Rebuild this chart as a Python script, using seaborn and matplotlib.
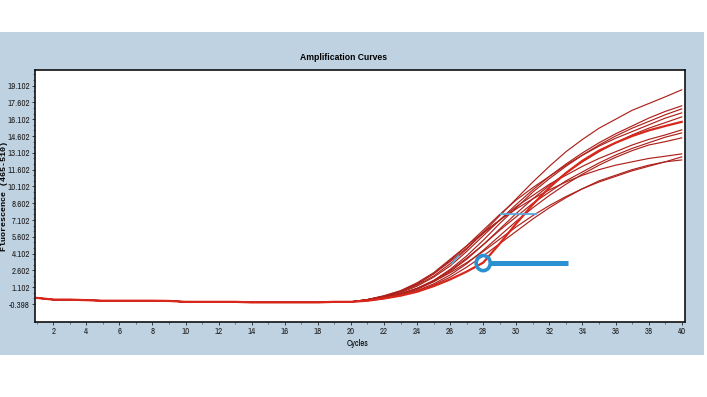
import numpy as np
import pandas as pd
import matplotlib
matplotlib.use("Agg")
import matplotlib.pyplot as plt
import seaborn as sns
from matplotlib.patches import Rectangle, Ellipse
from matplotlib.ticker import MultipleLocator, FixedLocator
from matplotlib import font_manager
from matplotlib.font_manager import FontProperties

# ---------------- data ----------------
cycles = list(range(1, 41))

baseline = [0.15, 0.0, 0.0, -0.05, -0.1, -0.1, -0.1, -0.1, -0.12, -0.2,
            -0.2, -0.2, -0.2, -0.25, -0.25, -0.25, -0.25, -0.25, -0.2, -0.2]

# cycles 21..40 for each sample
curve_a = [0.0, 0.3, 0.7, 1.3, 2.1, 3.2, 4.5, 6.0, 7.5, 9.0, 10.5, 11.9, 13.2, 14.3, 15.3, 16.1, 16.9, 17.5, 18.1, 18.73]
curve_b = [0.0, 0.25, 0.6, 1.2, 2.0, 3.0, 4.3, 5.7, 7.1, 8.5, 9.8, 11.0, 12.1, 13.1, 14.0, 14.8, 15.5, 16.2, 16.8, 17.30]
curve_c = [-0.05, 0.2, 0.5, 1.0, 1.7, 2.7, 3.9, 5.3, 6.8, 8.2, 9.6, 10.8, 11.9, 12.9, 13.8, 14.6, 15.3, 15.9, 16.5, 17.03]
curve_d = [0.0, 0.3, 0.7, 1.4, 2.3, 3.5, 4.8, 6.2, 7.6, 8.9, 10.0, 11.0, 12.0, 12.9, 13.7, 14.4, 15.0, 15.6, 16.2, 16.67]
curve_e = [-0.05, 0.15, 0.45, 0.9, 1.6, 2.5, 3.6, 4.9, 6.3, 7.7, 9.0, 10.2, 11.3, 12.3, 13.2, 14.0, 14.7, 15.3, 15.8, 16.31]
curve_f = [-0.1, 0.1, 0.35, 0.7, 1.2, 1.8, 2.5, 3.3, 5.0, 6.8, 8.5, 10.0, 11.3, 12.4, 13.3, 14.0, 14.6, 15.1, 15.5, 15.87]
curve_g = [0.0, 0.3, 0.75, 1.4, 2.3, 3.4, 4.6, 5.9, 7.1, 8.3, 9.3, 10.3, 11.1, 11.9, 12.6, 13.2, 13.8, 14.3, 14.7, 15.15]
curve_h = [-0.05, 0.2, 0.5, 1.0, 1.7, 2.6, 3.7, 4.9, 6.2, 7.4, 8.6, 9.6, 10.6, 11.4, 12.2, 12.9, 13.5, 14.0, 14.5, 14.88]
curve_i = [-0.1, 0.1, 0.4, 0.8, 1.4, 2.2, 3.2, 4.4, 5.7, 7.0, 8.2, 9.3, 10.3, 11.2, 12.0, 12.7, 13.3, 13.8, 14.1, 14.44]
curve_j = [0.0, 0.35, 0.8, 1.5, 2.4, 3.6, 4.8, 6.0, 7.1, 8.1, 9.0, 9.8, 10.5, 11.1, 11.6, 12.0, 12.3, 12.6, 12.8, 13.01]
curve_k = [-0.05, 0.2, 0.5, 1.0, 1.6, 2.4, 3.3, 4.3, 5.4, 6.5, 7.5, 8.4, 9.2, 9.9, 10.5, 11.0, 11.5, 11.9, 12.3, 12.74]
curve_l = [-0.1, 0.1, 0.35, 0.75, 1.3, 2.0, 2.9, 3.9, 5.0, 6.1, 7.2, 8.2, 9.1, 9.9, 10.6, 11.1, 11.6, 12.0, 12.3, 12.47]

samples = ["A", "B", "C", "D", "E", "G", "H", "I", "J", "K", "L", "F"]
tails = {"A": curve_a, "B": curve_b, "C": curve_c, "D": curve_d, "E": curve_e,
         "F": curve_f, "G": curve_g, "H": curve_h, "I": curve_i, "J": curve_j,
         "K": curve_k, "L": curve_l}

y_ticks = [-0.398, 1.102, 2.602, 4.102, 5.602, 7.102, 8.602, 10.102,
           11.602, 13.102, 14.602, 16.102, 17.602, 19.102]
x_ticks = list(range(2, 41, 2))

title = "Amplification Curves"
x_label = "Cycles"
y_label = "Fluorescence (465-510)"

# annotation (threshold marker)
ct_cycle, ct_value = 28.0, 3.26
arrow_end = 33.1
thr2_value, thr2_start, thr2_end = 7.64, 29.1, 31.2

rows = []
for s in samples:
    for c, v in zip(cycles, baseline + tails[s]):
        rows.append({"sample": s, "cycle": c, "fluor": v})
df = pd.DataFrame(rows)

# ---------------- fonts: look for a condensed face ----------------
cands = []
for f in font_manager.fontManager.ttflist:
    st = str(f.stretch).lower()
    if f.weight not in (400, "normal", "regular") or f.style != "normal":
        continue
    if "narrow" in f.name.lower() or "condensed" in f.name.lower():
        cands.append((0, f.fname))
    elif st in ("condensed", "semi-condensed", "extra-condensed") or \
            (isinstance(f.stretch, int) and f.stretch < 100):
        cands.append((1, f.fname))
    elif "condensed" in f.fname.lower() or "narrow" in f.fname.lower():
        cands.append((2, f.fname))
cands = [c for c in cands if "bold" not in c[1].lower() and "italic" not in c[1].lower()
         and "oblique" not in c[1].lower()]
cands.sort()
if cands:
    tick_fp = FontProperties(fname=cands[0][1], size=6.4)
else:
    tick_fp = FontProperties(family=["Liberation Sans", "DejaVu Sans"], size=5.3)

# ---------------- figure ----------------
W, H = 707, 397
fig = plt.figure(figsize=(W / 100, H / 100), dpi=100, facecolor="white")

# light blue panel
fig.patches.append(Rectangle((0, 1 - 355 / H), 704 / W, (355 - 32) / H,
                             transform=fig.transFigure, facecolor="#bfd2e1",
                             edgecolor="none", zorder=-5))

ax = fig.add_axes([35 / W, 1 - 322 / H, (685 - 35) / W, (322 - 70) / H])
ax.set_zorder(2)
ax.set_facecolor("white")

red_pal = {s: "#ad211b" for s in samples}
red_pal["F"] = "#d8281c"
sizes = {s: 0.85 for s in samples}
sizes["F"] = 1.6
sns.lineplot(data=df, x="cycle", y="fluor", hue="sample", size="sample",
             sizes=sizes, palette=red_pal, hue_order=samples, size_order=samples,
             legend=False, ax=ax, estimator=None, sort=False)

blue = "#2a92d2"
ax.add_patch(Ellipse((ct_cycle, ct_value), width=0.85, height=1.35, fill=False,
                     edgecolor=blue, linewidth=2.6, zorder=5))
ax.plot([ct_cycle + 0.42, arrow_end], [ct_value, ct_value], color=blue,
        linewidth=3.6, solid_capstyle="butt", zorder=5)
ax.plot([thr2_start, thr2_end], [thr2_value, thr2_value], color="#5aa9e0",
        linewidth=1.5, zorder=4, alpha=0.9)
ax.plot([26.1, 26.5], [3.2, 3.9], color="#5aa9e0", linewidth=1.2, zorder=4)

ax.set_xlim(0.9, 40.2)
ax.set_ylim(-2.0, 20.5)
ax.xaxis.set_major_locator(FixedLocator(x_ticks))
ax.xaxis.set_minor_locator(MultipleLocator(1))
ax.yaxis.set_major_locator(FixedLocator(y_ticks))
ax.yaxis.set_minor_locator(FixedLocator(np.arange(-0.398 + 0.5, 20.5, 0.5)))

ax.set_xticklabels([str(t) for t in x_ticks], fontproperties=tick_fp)
ax.set_yticklabels([f"{t:.3f}" for t in y_ticks], fontproperties=tick_fp)
ax.tick_params(axis="both", which="major", length=2.5, width=0.6, pad=1.0,
               direction="out", colors="#222222")
ax.tick_params(axis="both", which="minor", length=1.5, width=0.5, direction="out",
               colors="#444444")

for side in ["top", "right", "left", "bottom"]:
    ax.spines[side].set_color("#111111")
    ax.spines[side].set_linewidth(1.2)

ax.set_xlabel("")
ax.set_ylabel("")
fig.text(358 / W, 1 - 343 / H, x_label, ha="center", va="center",
         fontproperties=tick_fp)
fig.text(344 / W, 1 - 58 / H, title, ha="center", va="center",
         fontsize=6.2, fontweight="bold", family=["Liberation Sans", "DejaVu Sans"])
fig.text(5 / W, 1 - 196 / H, y_label, ha="center", va="center", rotation=90,
         fontsize=6.0, fontweight="bold", family=["Liberation Mono", "DejaVu Sans Mono"])

fig.savefig("out.png", dpi=100, facecolor="white")
